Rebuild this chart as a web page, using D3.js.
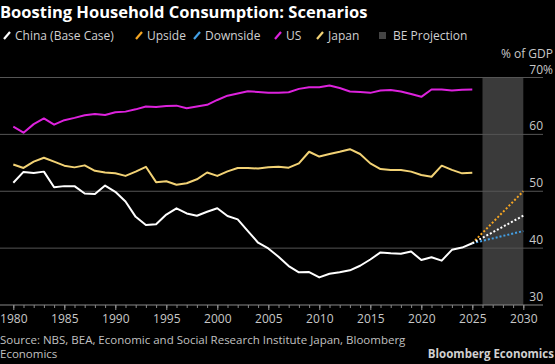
<!DOCTYPE html>
<html>
<head>
<meta charset="utf-8">
<script src="https://cdn.jsdelivr.net/npm/d3@7"></script>
<style>
  html, body { margin: 0; padding: 0; background: #000; }
  svg { display: block; font-family: "Open Sans", "Noto Sans", sans-serif; }
</style>
</head>
<body>
<svg id="chart"></svg>
<script>
// Данные (% ВВП)
const years = d3.range(1980, 2026);

const china = [51.5, 53.4, 53.2, 53.45, 50.7, 50.9, 50.9, 49.6, 49.5, 51.0,
  49.9, 48.2, 45.5, 44.05, 44.2, 45.9, 47.0, 46.1, 45.7, 46.4,
  47.0, 45.65, 45.05, 43.0, 40.95, 39.95, 38.5, 36.85, 35.75, 35.8,
  34.85, 35.5, 35.75, 36.1, 36.9, 38.0, 39.25, 39.1, 39.0, 39.4,
  37.9, 38.4, 37.8, 39.7, 40.1, 40.85];

const us = [61.35, 60.3, 61.8, 62.8, 61.7, 62.5, 62.9, 63.35, 63.6, 63.4,
  63.9, 64.0, 64.4, 64.9, 64.8, 65.0, 65.05, 64.6, 64.9, 65.2,
  66.05, 66.8, 67.2, 67.6, 67.45, 67.3, 67.3, 67.4, 68.0, 68.3,
  68.3, 68.6, 68.15, 67.55, 67.45, 67.3, 67.7, 67.8, 67.55, 67.1,
  66.6, 67.9, 67.9, 67.7, 67.85, 67.9];

const japan = [54.7, 54.1, 55.2, 55.9, 55.2, 54.5, 54.2, 54.55, 53.6, 53.3,
  53.15, 52.7, 53.45, 54.3, 51.6, 51.75, 51.15, 51.4, 52.1, 53.3,
  52.7, 53.5, 54.1, 54.1, 54.0, 54.2, 54.3, 54.15, 54.9, 56.95,
  56.1, 56.55, 56.95, 57.4, 56.55, 54.9, 53.9, 53.75, 53.75, 53.45,
  52.85, 52.55, 54.5, 53.75, 53.15, 53.25];

// Сценарии 2025 -> 2030
const projYears = [2025, 2030];
const baseCase = [40.85, 45.7];
const upside = [40.85, 50.0];
const downside = [40.85, 43.0];

const projection = [2026, 2030];
const yTicks = [30, 40, 50, 60, 70];
const xTicks = [1980, 1985, 1990, 1995, 2000, 2005, 2010, 2015, 2020, 2025, 2030];

const legendItems = [
  { name: 'China (Base Case)', color: '#ffffff', x: 4 },
  { name: 'Upside', color: '#f5a623', x: 136 },
  { name: 'Downside', color: '#43a0e6', x: 194 },
  { name: 'US', color: '#dd22dd', x: 275 },
  { name: 'Japan', color: '#f2d275', x: 317 },
];

const width = 555;
const height = 364;

const svg = d3.select('#chart')
  .attr('width', width)
  .attr('height', height);

svg.append('rect')
  .attr('width', width)
  .attr('height', height)
  .attr('fill', '#000');

// Шкалы
const x = d3.scaleLinear().domain([1980, 2030]).range([13.3, 523.3]);
const y = d3.scaleLinear().domain([30, 70]).range([305, 77.5]);

// Заголовок
svg.append('text')
  .attr('x', 0)
  .attr('y', 18)
  .attr('fill', '#fff')
  .style('font-size', '16.5px')
  .style('font-weight', 'bold')
  .text('Boosting Household Consumption: Scenarios');

// Легенда
const legend = svg.append('g').attr('transform', 'translate(0,36)');
legendItems.forEach(d => {
  legend.append('line')
    .attr('x1', d.x)
    .attr('x2', d.x + 6)
    .attr('y1', 3)
    .attr('y2', -4)
    .attr('stroke', d.color)
    .attr('stroke-width', 2.2);
  legend.append('text')
    .attr('x', d.x + 11)
    .attr('y', 4)
    .attr('fill', '#d0d0d0')
    .style('font-size', '12px')
    .text(d.name);
});
legend.append('rect')
  .attr('x', 379)
  .attr('y', -4)
  .attr('width', 7)
  .attr('height', 7)
  .attr('fill', '#444');
legend.append('text')
  .attr('x', 393)
  .attr('y', 4)
  .attr('fill', '#d0d0d0')
  .style('font-size', '12px')
  .text('BE Projection');

// Зона прогноза
svg.append('rect')
  .attr('x', x(projection[0]))
  .attr('y', y(70))
  .attr('width', x(projection[1]) - x(projection[0]))
  .attr('height', y(30) - y(70))
  .attr('fill', '#3a3a3a');

// Горизонтальная сетка
svg.append('g')
  .selectAll('line')
  .data(yTicks.filter(d => d > 30))
  .enter()
  .append('line')
  .attr('x1', 0)
  .attr('x2', 543)
  .attr('y1', d => y(d))
  .attr('y2', d => y(d))
  .attr('stroke', '#555')
  .attr('stroke-width', 1);

// Подписи оси Y справа
const yLabels = svg.append('g');
yLabels.selectAll('text')
  .data(yTicks)
  .enter()
  .append('text')
  .attr('x', 543)
  .attr('y', d => y(d) - 4)
  .attr('text-anchor', 'end')
  .attr('fill', '#c8c8c8')
  .style('font-size', '12px')
  .text(d => d);
yLabels.append('text')
  .attr('x', 543)
  .attr('y', y(70) - 4)
  .attr('fill', '#c8c8c8')
  .style('font-size', '12px')
  .text('%');
svg.append('text')
  .attr('x', 553)
  .attr('y', 58)
  .attr('text-anchor', 'end')
  .attr('fill', '#c8c8c8')
  .style('font-size', '12px')
  .text('% of GDP');

// Ось X
const xAxisMinor = svg.append('g')
  .attr('transform', `translate(0,${y(30)})`)
  .call(d3.axisBottom(x).tickValues(d3.range(1980, 2031)).tickSize(3).tickFormat(''));
xAxisMinor.select('.domain').remove();
xAxisMinor.selectAll('.tick line').attr('stroke', '#888');

const xAxis = svg.append('g')
  .attr('transform', `translate(0,${y(30)})`)
  .call(d3.axisBottom(x).tickValues(xTicks).tickSize(5).tickPadding(4).tickFormat(d3.format('d')));
xAxis.select('.domain').remove();
xAxis.selectAll('.tick line').attr('stroke', '#999');
xAxis.selectAll('text')
  .attr('fill', '#c8c8c8')
  .style('font-size', '12px')
  .style('font-family', '"Open Sans", "Noto Sans", sans-serif');

svg.append('line')
  .attr('x1', 0)
  .attr('x2', 543)
  .attr('y1', y(30))
  .attr('y2', y(30))
  .attr('stroke', '#888')
  .attr('stroke-width', 1);

// Линии
const line = d3.line()
  .x((d, i) => x(years[i]))
  .y(d => y(d));

const projLine = d3.line()
  .x((d, i) => x(projYears[i]))
  .y(d => y(d));

[[us, '#dd22dd'], [japan, '#f2d275'], [china, '#ffffff']].forEach(([s, c]) => {
  svg.append('path')
    .datum(s)
    .attr('d', line)
    .attr('fill', 'none')
    .attr('stroke', c)
    .attr('stroke-width', 2)
    .attr('stroke-linejoin', 'round');
});

[[upside, '#f5a623'], [downside, '#43a0e6'], [baseCase, '#ffffff']].forEach(([s, c]) => {
  svg.append('path')
    .datum(s)
    .attr('d', projLine)
    .attr('fill', 'none')
    .attr('stroke', c)
    .attr('stroke-width', 2)
    .attr('stroke-dasharray', '2,2');
});

// Источник
svg.append('text')
  .attr('x', 0)
  .attr('y', 344)
  .attr('fill', '#c0c0c0')
  .style('font-size', '11.5px')
  .text('Source: NBS, BEA, Economic and Social Research Institute Japan, Bloomberg');
svg.append('text')
  .attr('x', 0)
  .attr('y', 358)
  .attr('fill', '#c0c0c0')
  .style('font-size', '11.5px')
  .text('Economics');
svg.append('text')
  .attr('x', 554)
  .attr('y', 358)
  .attr('text-anchor', 'end')
  .attr('fill', '#d0d0d0')
  .style('font-size', '11.5px')
  .style('font-weight', 'bold')
  .text('Bloomberg Economics');
</script>
</body>
</html>
